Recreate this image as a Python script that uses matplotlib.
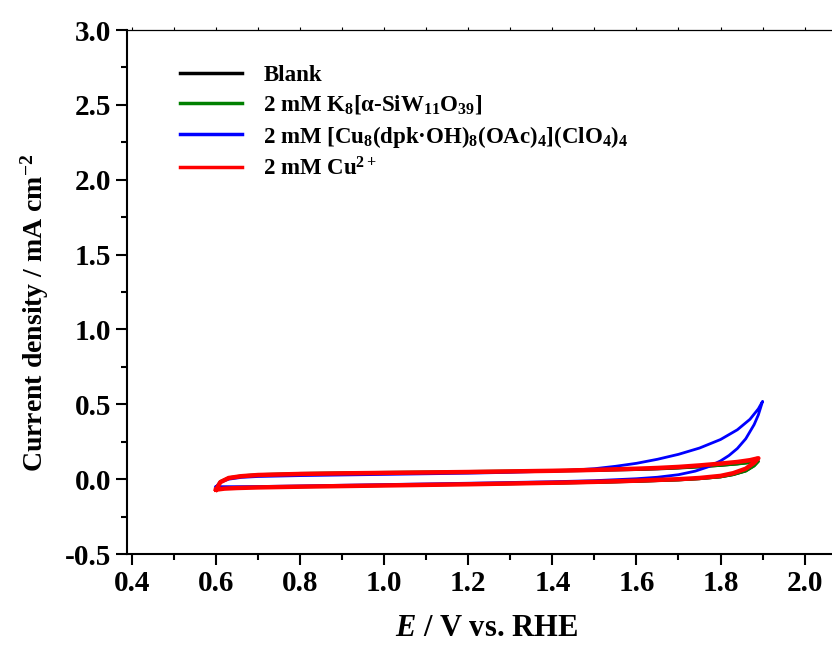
import matplotlib
matplotlib.use('Agg')
import matplotlib.pyplot as plt
from matplotlib.ticker import MultipleLocator

plt.rcParams['font.family'] = 'Liberation Serif'
plt.rcParams['font.weight'] = 'bold'
plt.rcParams['axes.labelweight'] = 'bold'
plt.rcParams['mathtext.fontset'] = 'custom'
plt.rcParams['mathtext.rm'] = 'Liberation Serif:bold'
plt.rcParams['mathtext.it'] = 'Liberation Serif:italic:bold'
plt.rcParams['mathtext.bf'] = 'Liberation Serif:bold'

# potentials (V vs RHE), forward and reverse scan
E_fwd = [0.60, 0.61, 0.63, 0.66, 0.70, 0.80, 0.90, 1.00, 1.10, 1.20, 1.30,
         1.40, 1.50, 1.60, 1.65, 1.70, 1.75, 1.80, 1.84, 1.87, 1.89]
E_rev = [1.89, 1.88, 1.86, 1.83, 1.80, 1.75, 1.70, 1.60, 1.50, 1.40, 1.30,
         1.20, 1.10, 1.00, 0.90, 0.80, 0.70, 0.65, 0.62, 0.60]

blank_fwd = [-0.065, -0.02, 0.005, 0.018, 0.026, 0.034, 0.038, 0.041, 0.044, 0.047, 0.050,
             0.054, 0.058, 0.064, 0.068, 0.074, 0.082, 0.092, 0.102, 0.112, 0.12]
blank_rev = [0.12, 0.09, 0.055, 0.03, 0.015, 0.003, -0.005, -0.015, -0.022, -0.027, -0.031,
             -0.035, -0.039, -0.043, -0.047, -0.051, -0.055, -0.058, -0.061, -0.065]

siw_fwd = [-0.06, -0.015, 0.01, 0.023, 0.031, 0.039, 0.043, 0.046, 0.049, 0.052, 0.055,
           0.058, 0.062, 0.067, 0.071, 0.076, 0.083, 0.092, 0.101, 0.11, 0.118]
siw_rev = [0.118, 0.088, 0.054, 0.03, 0.015, 0.003, -0.005, -0.014, -0.021, -0.026, -0.030,
           -0.034, -0.038, -0.042, -0.046, -0.050, -0.054, -0.057, -0.060, -0.063]

cu2_fwd = [-0.07, -0.02, 0.008, 0.02, 0.028, 0.035, 0.039, 0.042, 0.045, 0.048, 0.052,
           0.056, 0.062, 0.07, 0.075, 0.082, 0.092, 0.104, 0.115, 0.127, 0.14]
cu2_rev = [0.14, 0.11, 0.07, 0.04, 0.022, 0.008, 0.0, -0.01, -0.018, -0.024, -0.029,
           -0.034, -0.038, -0.042, -0.046, -0.050, -0.055, -0.059, -0.063, -0.07]

E_fwd_cu8 = [0.60, 0.61, 0.63, 0.66, 0.70, 0.80, 0.90, 1.00, 1.10, 1.20, 1.30,
             1.40, 1.45, 1.50, 1.55, 1.60, 1.65, 1.70, 1.75, 1.80, 1.84, 1.87, 1.89, 1.90]
cu8_fwd = [-0.05, -0.02, 0.0, 0.012, 0.018, 0.024, 0.028, 0.032, 0.036, 0.04, 0.046,
           0.054, 0.061, 0.07, 0.086, 0.106, 0.133, 0.166, 0.208, 0.265, 0.33, 0.40, 0.47, 0.52]
E_rev_cu8 = [1.90, 1.89, 1.88, 1.86, 1.84, 1.82, 1.80, 1.77, 1.74, 1.70, 1.65,
             1.60, 1.50, 1.40, 1.20, 1.00, 0.80, 0.70, 0.64, 0.61, 0.60]
cu8_rev = [0.52, 0.43, 0.365, 0.27, 0.205, 0.158, 0.122, 0.082, 0.054, 0.03, 0.013,
           0.003, -0.01, -0.017, -0.027, -0.036, -0.045, -0.049, -0.05, -0.05, -0.05]

labels = ['Blank',
          '2 mM K$_8$[α-SiW$_{11}$O$_{39}$]',
          '2 mM [Cu$_8$(dpk·OH)$_8$(OAc)$_4$](ClO$_4$)$_4$',
          '2 mM Cu$^{2+}$']

fig = plt.figure(figsize=(8.32, 6.48), dpi=100)
ax = fig.add_axes([0.1526, 0.145, 0.865, 0.8086])

ax.plot(E_fwd + E_rev, blank_fwd + blank_rev, color='black', lw=2.0, label=labels[0])
ax.plot(E_fwd + E_rev, siw_fwd + siw_rev, color='#008000', lw=2.0, label=labels[1])
ax.plot(E_fwd_cu8 + E_rev_cu8, cu8_fwd + cu8_rev, color='#0000ff', lw=2.0, label=labels[2])
ax.plot(E_fwd + E_rev, cu2_fwd + cu2_rev, color='#ff0000', lw=3.2, label=labels[3])

ax.set_xlim(0.388, 2.1)
ax.set_ylim(-0.5, 3.0)
ax.xaxis.set_major_locator(MultipleLocator(0.2))
ax.xaxis.set_minor_locator(MultipleLocator(0.1))
ax.yaxis.set_major_locator(MultipleLocator(0.5))
ax.yaxis.set_minor_locator(MultipleLocator(0.25))
ax.xaxis.set_major_formatter(plt.FormatStrFormatter('%.1f'))
ax.yaxis.set_major_formatter(plt.FormatStrFormatter('%.1f'))

ax.tick_params(which='major', direction='out', length=8, width=1.5, labelsize=21)
ax.tick_params(which='minor', direction='out', length=4.5, width=1.5)
ax.spines['left'].set_linewidth(1.5)
ax.spines['bottom'].set_linewidth(1.5)
ax.spines['top'].set_linewidth(0.9)
ax.spines['right'].set_visible(False)

# small top ticks
ax2 = ax.secondary_xaxis('top')
ax2.xaxis.set_major_locator(MultipleLocator(0.1))
ax2.tick_params(direction='out', length=2.5, width=0.8, labeltop=False)
ax2.spines['top'].set_visible(False)

ax.set_xlabel('$E$ / V vs. RHE', fontsize=22, labelpad=12)
ax.set_ylabel('Current density / mA cm$^{-2}$', fontsize=20)
ax.yaxis.set_label_coords(-0.105, 0.46)

leg = ax.legend(frameon=False, loc='upper left', bbox_to_anchor=(0.216, 0.9),
                bbox_transform=fig.transFigure, borderaxespad=0, borderpad=0,
                handlelength=2.7, handletextpad=0.95, labelspacing=0.32,
                prop={'size': 16.5, 'weight': 'bold'})
for h in leg.get_lines():
    h.set_linewidth(2.5)

fig.savefig('out.png', dpi=100)
